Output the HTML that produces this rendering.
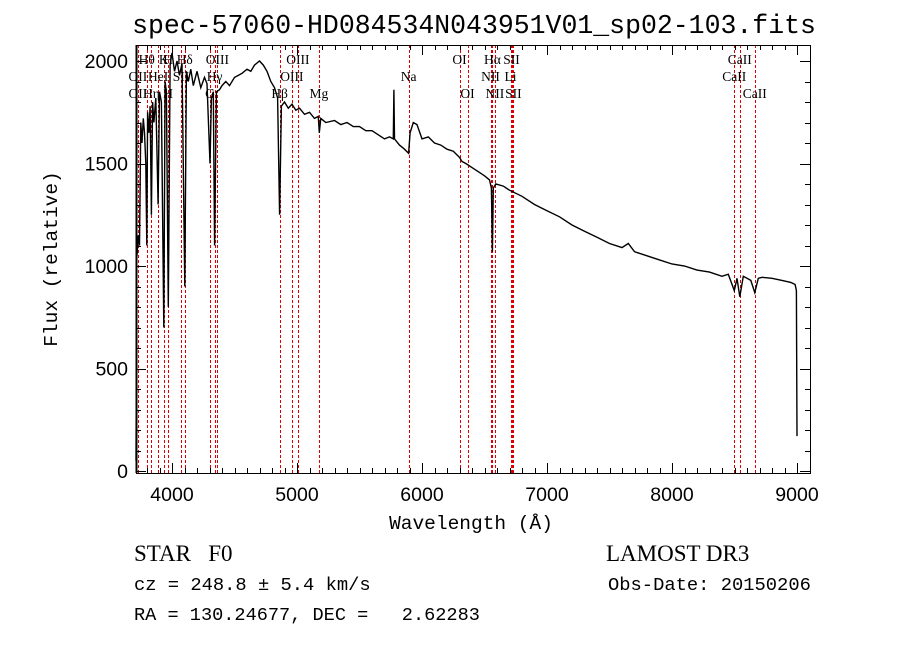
<!DOCTYPE html>
<html><head><meta charset="utf-8"><style>
body{margin:0;background:#fff;}
svg{display:block;}
</style></head><body>
<svg id="chart" width="900" height="649" xmlns="http://www.w3.org/2000/svg">
<text x="474" y="33" text-anchor="middle" font-family="Liberation Mono, monospace" font-size="26.5">spec-57060-HD084534N043951V01_sp02-103.fits</text>
<text transform="translate(57,259) rotate(-90)" text-anchor="middle" font-family="Liberation Mono, monospace" font-size="19.5">Flux (relative)</text>
<text x="471" y="529" text-anchor="middle" font-family="Liberation Mono, monospace" font-size="19.5">Wavelength (Å)</text>
<text x="134" y="561" font-family="Liberation Serif, serif" font-size="23">STAR&#160;&#160;&#160;F0</text>
<text x="134" y="590" font-family="Liberation Mono, monospace" font-size="18.8">cz = 248.8 ± 5.4 km/s</text>
<text x="134" y="620" font-family="Liberation Mono, monospace" font-size="18.6">RA = 130.24677, DEC =&#160;&#160;&#160;2.62283</text>
<text x="606" y="561" font-family="Liberation Serif, serif" font-size="23">LAMOST DR3</text>
<text x="608" y="590" font-family="Liberation Mono, monospace" font-size="18.8">Obs-Date: 20150206</text>
</svg>
<script>
const waves=[3712,3714,3716,3720,3730,3740,3750,3760,3770,3780,3790,3798,3805,3815,3825,3835,3845,3855,3870,3889,3900,3915,3934,3945,3955,3970,3985,4000,4020,4040,4060,4080,4102,4115,4130,4150,4170,4200,4230,4260,4280,4304,4315,4330,4341,4355,4380,4400,4430,4460,4500,4530,4560,4600,4630,4660,4700,4730,4760,4790,4820,4845,4861,4875,4900,4930,4960,4990,5020,5060,5100,5140,5170,5178,5190,5230,5300,5350,5400,5450,5500,5550,5600,5650,5700,5740,5770,5775,5780,5820,5860,5893,5905,5930,5960,6000,6050,6100,6150,6200,6250,6300,6320,6350,6400,6450,6500,6540,6555,6563,6570,6590,6650,6700,6800,6900,7000,7100,7200,7300,7400,7500,7600,7650,7700,7800,7900,8000,8100,8200,8300,8400,8450,8498,8520,8542,8570,8600,8630,8662,8690,8720,8800,8880,8950,8985,8995,9000];
const flux=[50,400,1200,1050,1150,1100,1700,1600,1720,1650,1500,1100,1750,1650,1780,1250,1800,1700,1820,1300,1850,1800,700,1900,1850,800,1980,2040,1950,2000,1930,1990,900,1950,1900,1960,1880,1950,1870,1920,1890,1500,1820,1850,1100,1850,1860,1880,1900,1880,1920,1930,1940,1960,1950,1980,2000,1980,1950,1900,1870,1820,1250,1780,1800,1770,1790,1760,1770,1740,1750,1720,1730,1650,1720,1700,1710,1690,1700,1680,1680,1660,1660,1640,1620,1630,1620,1860,1620,1590,1570,1550,1650,1700,1690,1620,1630,1600,1590,1570,1560,1530,1510,1500,1480,1460,1440,1420,1380,1070,1380,1400,1390,1370,1340,1300,1270,1240,1200,1170,1140,1110,1090,1110,1070,1050,1030,1010,1000,980,970,950,960,880,940,850,950,940,930,870,940,945,940,930,920,910,880,170];
const lineNames=["OII","Hθ","Hη","HeI","K","H","SII","Hδ","G","Hγ","OIII","Hβ","OIII","OIII","Mg","Na","OI","OI","NII","Hα","NII","Li","SII","SII","CaII","CaII","CaII"];
const lineWaves=[3727,3798,3835,3889,3934,3969,4072,4102,4304,4341,4363,4861,4959,5007,5175,5893,6300,6364,6548,6563,6583,6708,6716,6731,8498,8542,8662];
const xTicks=[4000,5000,6000,7000,8000,9000];
const yTicks=[0,500,1000,1500,2000];
const labels=[["Hθ",3798,0],["K",3934,0],["H",3969,0],["Hδ",4102,0],["OIII",4363,0],["OIII",5007,0],["OI",6300,0],["Hα",6563,0],["SII",6716,0],["CaII",8542,0],
["OII",3727,1],["HeI",3889,1],["SII",4072,1],["Hγ",4341,1],["OIII",4959,1],["Na",5893,1],["NII",6548,1],["Li",6708,1],["CaII",8498,1],
["OII",3727,2],["Hη",3835,2],["H",3969,2],["G",4304,2],["Hβ",4861,2],["Mg",5175,2],["OI",6364,2],["NII",6583,2],["SII",6731,2],["CaII",8662,2]];
const L=136,R=810,T=45,B=473;
const x=w=>172+(w-4000)*0.125;
const y=f=>471-f*0.205;
const NS="http://www.w3.org/2000/svg";
const svg=document.getElementById('chart');
function mk(t,a,p){const e=document.createElementNS(NS,t);for(const k in a)e.setAttribute(k,a[k]);(p||svg).appendChild(e);return e;}
lineWaves.forEach((w,i)=>{const px=Math.round(x(w))+0.5;const e=mk('line',{x1:px,x2:px,y1:T,y2:B,stroke:'#d00',"stroke-width":1,"stroke-dasharray":"3,2"});

});
let d='';waves.forEach((w,i)=>{d+=(i?'L':'M')+x(w).toFixed(1)+','+Math.max(T,y(flux[i])).toFixed(1);});
const sp=mk('path',{d:d,fill:'none',stroke:'#000',"stroke-width":1.4});


labels.forEach(l=>{const t=mk('text',{x:x(l[1]),y:64+l[2]*17,"text-anchor":"middle","font-family":"Liberation Serif, serif","font-size":13.5});t.textContent=l[0];

});
const fr=mk('rect',{x:L+0.5,y:T+0.5,width:R-L,height:B-T,fill:'none',stroke:'#000',"stroke-width":1});


mk('line',{x1:L+0.5,x2:L+0.5,y1:T,y2:B,stroke:'#000',"stroke-width":2});
for(let w=3800;w<=9100;w+=100){const maj=w%1000===0;const len=maj?10:5;const px=Math.round(x(w))+0.5;
mk('line',{x1:px,x2:px,y1:B,y2:B-len,stroke:'#000'});mk('line',{x1:px,x2:px,y1:T,y2:T+len,stroke:'#000'});}
xTicks.forEach(v=>{const t=mk('text',{x:x(v),y:B+28,"text-anchor":"middle","font-family":"Liberation Sans, sans-serif","font-size":19.5});t.textContent=v;

});
for(let f=0;f<=2000;f+=100){const maj=f%500===0;const len=maj?10:5;const py=Math.round(y(f))+0.5;
mk('line',{x1:L,x2:L+len,y1:py,y2:py,stroke:'#000'});mk('line',{x1:R,x2:R-len,y1:py,y2:py,stroke:'#000'});}
yTicks.forEach(v=>{const t=mk('text',{x:L-8,y:y(v)+7,"text-anchor":"end","font-family":"Liberation Sans, sans-serif","font-size":19.5});t.textContent=v;

});
</script>
</body></html>
